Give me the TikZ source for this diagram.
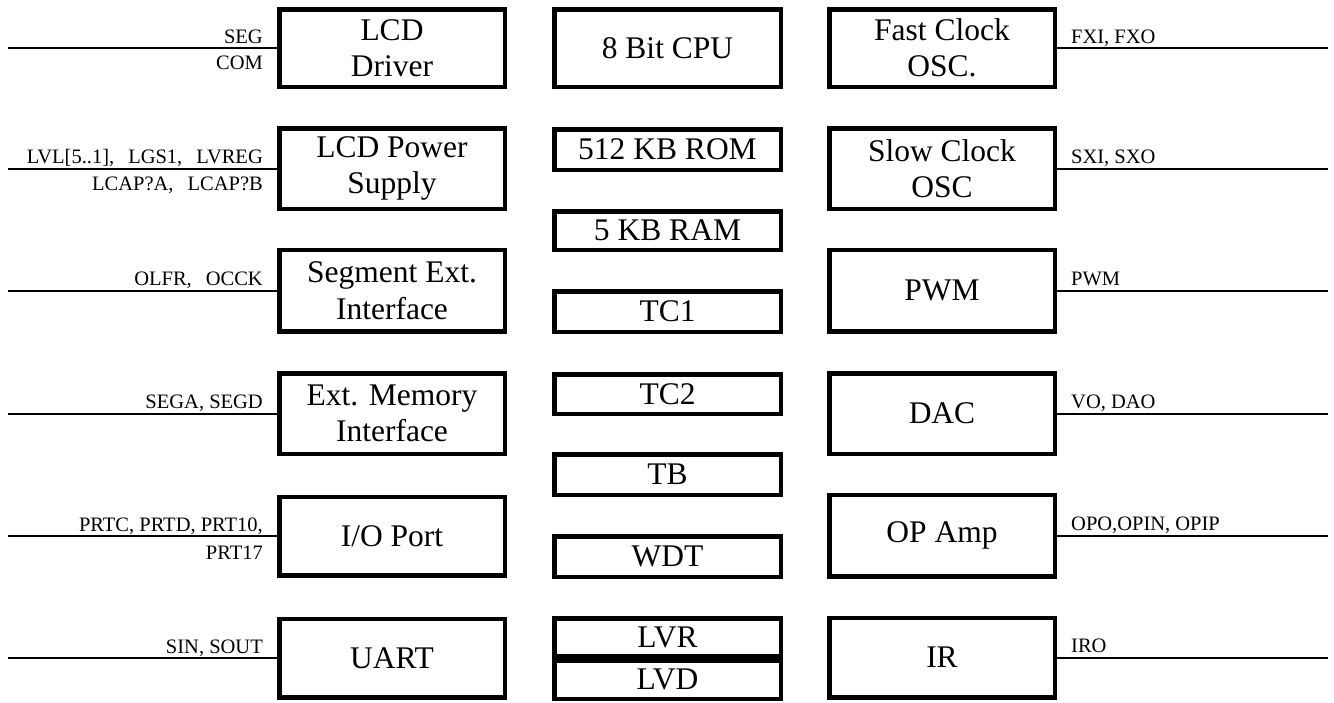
\documentclass[tikz,border=0pt]{standalone}
\usepackage{fontspec}
\setmainfont{Liberation Serif}
\newcommand\dgap{\hspace{14pt}}
\begin{document}
\begin{tikzpicture}[x=1pt,y=-1pt,
  blk/.style={draw, line width=4.5pt, inner sep=0pt, align=center,
    font=\fontsize{31.5}{36.5}\selectfont, minimum width=225.5pt},
  cblk/.style={blk, minimum width=226.5pt},
  wire/.style={line width=2pt},
  lab/.style={font=\fontsize{20.5}{22}\selectfont, inner sep=0pt},
  labL/.style={lab, anchor=base east},
  labR/.style={lab, anchor=base west}]
\useasboundingbox (0,0) rectangle (1334,702);
\coordinate (L) at (8,0);
\coordinate (R) at (1328,0);
% left column
\node[blk, minimum height=77.5pt] (lcd)  at (392,48)  {LCD\\Driver};
\node[blk, minimum height=80.5pt] (lps)  at (392,168.5) {LCD Power\\Supply};
\node[blk, minimum height=81.5pt] (seg)  at (392,290.5) {Segment Ext.\\Interface};
\node[blk, minimum height=80.5pt] (mem)  at (392,413.5) {Ext. Memory\\Interface};
\node[blk, minimum height=78.5pt] (io)   at (392,536)  {I/O Port};
\node[blk, minimum height=78.5pt] (uart) at (392,658)  {UART};
% centre column
\node[cblk, minimum height=77.5pt] (cpu) at (667.5,48)    {8 Bit CPU};
\node[cblk, minimum height=40.5pt] (rom) at (667.5,149.5) {512 KB ROM};
\node[cblk, minimum height=38.5pt] (ram) at (667.5,230.5) {5 KB RAM};
\node[cblk, minimum height=40.5pt] (tc1) at (667.5,311.5) {TC1};
\node[cblk, minimum height=39.5pt] (tc2) at (667.5,394)   {TC2};
\node[cblk, minimum height=40.5pt] (tb)  at (667.5,474.5) {TB};
\node[cblk, minimum height=40.5pt] (wdt) at (667.5,556.5) {WDT};
\node[cblk, minimum height=37.5pt] (lvr) at (667.5,637)   {LVR};
\node[cblk, minimum height=38.5pt] (lvd) at (667.5,679.5) {LVD};
% right column
\node[blk, minimum height=77.5pt] (fco) at (942,48)    {Fast Clock\\OSC.};
\node[blk, minimum height=80.5pt] (sco) at (942,168.5) {Slow Clock\\OSC};
\node[blk, minimum height=81.5pt] (pwm) at (942,290.5) {PWM};
\node[blk, minimum height=80.5pt] (dac) at (942,413.5) {DAC};
\node[blk, minimum height=81.5pt] (opa) at (942,535.5) {OP Amp};
\node[blk, minimum height=79.5pt] (ir)  at (942,657.5) {IR};
% left wires
\foreach \n in {lcd,lps,seg,mem,io,uart}
  \draw[wire] (\n.west) -- (\n.west -| L);
% right wires
\foreach \n in {fco,sco,pwm,dac,opa,ir}
  \draw[wire] (\n.east) -- (\n.east -| R);
% left labels
\node[labL] (t1a) at ([xshift=-14pt,yshift=5pt]lcd.west) {SEG};
\node[labL] (t1b) at ([xshift=-14pt,yshift=-21.5pt]lcd.west) {COM};
\node[labL] (t2a) at ([xshift=-14pt,yshift=5pt]lps.west) {LVL[5..1],\dgap LGS1,\dgap LVREG};
\node[labL] (t2b) at ([xshift=-14pt,yshift=-22pt]lps.west) {LCAP?A,\dgap LCAP?B};
\node[labL] (t3)  at ([xshift=-14pt,yshift=5pt]seg.west) {OLFR,\dgap OCCK};
\node[labL] (t4)  at ([xshift=-14pt,yshift=5pt]mem.west) {SEGA, SEGD};
\node[labL] (t5a) at ([xshift=-14pt,yshift=5pt]io.west) {PRTC, PRTD, PRT10,};
\node[labL] (t5b) at ([xshift=-14pt,yshift=-23pt]io.west) {PRT17};
\node[labL] (t6)  at ([xshift=-14pt,yshift=5pt]uart.west) {SIN, SOUT};
% right labels
\node[labR] (r1) at ([xshift=14pt,yshift=5pt]fco.east) {FXI, FXO};
\node[labR] (r2) at ([xshift=14pt,yshift=5pt]sco.east) {SXI, SXO};
\node[labR] (r3) at ([xshift=14pt,yshift=5pt]pwm.east) {PWM};
\node[labR] (r4) at ([xshift=14pt,yshift=5pt]dac.east) {VO, DAO};
\node[labR] (r5) at ([xshift=14pt,yshift=5pt]opa.east) {OPO,OPIN, OPIP};
\node[labR] (r6) at ([xshift=14pt,yshift=5pt]ir.east) {IRO};
\end{tikzpicture}
\end{document}
